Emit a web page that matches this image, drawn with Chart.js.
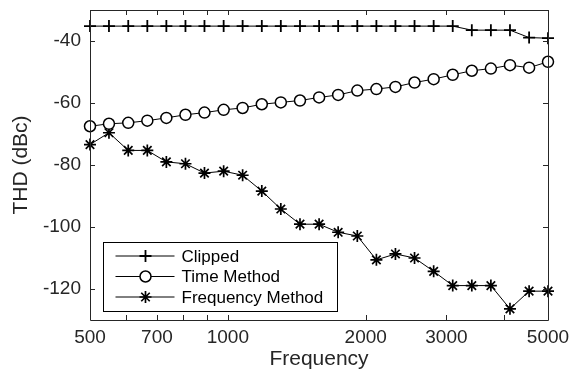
<!DOCTYPE html>
<html>
<head>
<meta charset="utf-8">
<script src="https://cdn.jsdelivr.net/npm/chart.js@4"></script>
<style>
    html, body { margin: 0; padding: 0; background: #fff; }
    #wrap { width: 570px; height: 372px; position: relative; }
</style>
</head>
<body>
<div id="wrap"><canvas id="thdChart"></canvas></div>
<script>
// Data
const frequencies = [500, 550, 606, 667, 734, 808, 889, 979, 1077, 1186, 1305, 1437, 1582,
    1741, 1917, 2110, 2322, 2556, 2814, 3097, 3409, 3752, 4130, 4547, 5000];

const clipped = [-35.2, -35.2, -35.2, -35.2, -35.2, -35.2, -35.2, -35.2, -35.2, -35.2,
    -35.2, -35.2, -35.2, -35.2, -35.2, -35.2, -35.2, -35.2, -35.2, -35.2,
    -36.5, -36.5, -36.5, -38.9, -39.1];

const timeMethod = [-67.5, -66.7, -66.4, -65.7, -64.8, -63.8, -63.1, -62.2, -61.6, -60.4,
    -59.8, -59.2, -58.2, -57.4, -56.0, -55.5, -54.8, -53.4, -52.3, -50.9,
    -49.6, -48.9, -47.8, -48.6, -46.7];

const freqMethod = [-73.4, -69.6, -75.3, -75.3, -79.0, -79.6, -82.6, -82.0, -83.3, -88.4,
    -94.2, -99.1, -99.1, -101.7, -102.9, -110.6, -108.7, -110.0, -114.3, -118.9,
    -118.9, -118.9, -126.4, -120.7, -120.7];

const seriesNames = ['Clipped', 'Time Method', 'Frequency Method'];
const xTicks = [500, 600, 700, 800, 900, 1000, 2000, 3000, 4000, 5000];
const xLabels = [500, 700, 1000, 2000, 3000, 5000];
const yTicks = [-120, -100, -80, -60, -40];

const AXIS_COLOR = '#262626';
const FONT = 'Liberation Sans, Arial, Helvetica, sans-serif';

function toPoints(values) {
    return values.map((v, i) => ({ x: frequencies[i], y: v }));
}

function makeDataset(label, values, style, radius, width, fill) {
    return {
        label: label,
        data: toPoints(values),
        borderColor: '#000',
        borderWidth: 1,
        pointStyle: style,
        pointRadius: radius,
        pointBorderWidth: width,
        pointBorderColor: '#000',
        pointBackgroundColor: fill,
        tension: 0,
        clip: false
    };
}

// Box, inward ticks and the in-plot legend
const matlabAxes = {
    id: 'matlabAxes',
    afterDatasetsDraw(chart) {
        const ctx = chart.ctx;
        const area = chart.chartArea;
        const xs = chart.scales.x;
        const ys = chart.scales.y;
        const len = 5;

        ctx.save();
        ctx.strokeStyle = AXIS_COLOR;
        ctx.lineWidth = 1;
        ctx.beginPath();
        ctx.rect(Math.round(area.left) + 0.5, Math.round(area.top) + 0.5,
            Math.round(area.right - area.left), Math.round(area.bottom - area.top));
        ctx.stroke();

        ctx.beginPath();
        xs.ticks.forEach(t => {
            const px = Math.round(xs.getPixelForValue(t.value)) + 0.5;
            ctx.moveTo(px, area.bottom); ctx.lineTo(px, area.bottom - len);
            ctx.moveTo(px, area.top); ctx.lineTo(px, area.top + len);
        });
        ys.ticks.forEach(t => {
            const py = Math.round(ys.getPixelForValue(t.value)) + 0.5;
            ctx.moveTo(area.left, py); ctx.lineTo(area.left + len, py);
            ctx.moveTo(area.right, py); ctx.lineTo(area.right - len, py);
        });
        ctx.stroke();

        // legend
        const boxLeft = area.left + 13.5;
        const boxTop = area.bottom - 77.5;
        const boxW = 234;
        const boxH = 69;
        ctx.fillStyle = '#fff';
        ctx.fillRect(boxLeft, boxTop, boxW, boxH);
        ctx.strokeStyle = '#000';
        ctx.strokeRect(boxLeft, boxTop, boxW, boxH);

        ctx.font = '17px ' + FONT;
        ctx.textBaseline = 'middle';
        ctx.textAlign = 'left';
        chart.data.datasets.forEach((ds, i) => {
            const y = boxTop + 13.5 + i * 20.5;
            ctx.strokeStyle = '#000';
            ctx.lineWidth = 1;
            ctx.beginPath();
            ctx.moveTo(boxLeft + 12, y);
            ctx.lineTo(boxLeft + 71, y);
            ctx.stroke();
            ctx.lineWidth = ds.pointBorderWidth;
            ctx.fillStyle = ds.pointBackgroundColor;
            Chart.helpers.drawPoint(ctx, {
                pointStyle: ds.pointStyle,
                radius: ds.pointRadius,
                rotation: 0,
                borderWidth: ds.pointBorderWidth
            }, boxLeft + 42, y);
            ctx.fillStyle = '#000';
            ctx.fillText(ds.label, boxLeft + 78, y + 1);
        });
        ctx.restore();
    }
};

function initializeChart() {
    const ctx = document.getElementById('thdChart').getContext('2d');
    new Chart(ctx, {
        type: 'line',
        data: {
            datasets: [
                makeDataset(seriesNames[0], clipped, 'cross', 6, 1.8, '#000'),
                makeDataset(seriesNames[1], timeMethod, 'circle', 5.5, 1.5, '#fff'),
                makeDataset(seriesNames[2], freqMethod, 'star', 6, 1.7, '#000')
            ]
        },
        options: {
            responsive: true,
            maintainAspectRatio: false,
            animation: false,
            devicePixelRatio: 1,
            layout: { padding: { top: 10, right: 22, left: 0, bottom: 0 } },
            plugins: {
                legend: { display: false },
                tooltip: { enabled: false }
            },
            scales: {
                x: {
                    type: 'logarithmic',
                    min: 500,
                    max: 5000,
                    grid: { display: false, drawTicks: false },
                    border: { display: false },
                    afterBuildTicks: scale => {
                        scale.ticks = xTicks.map(v => ({ value: v }));
                    },
                    afterFit: scale => {
                        scale.height = 52;
                        scale.paddingLeft = 0;
                        scale.paddingRight = 0;
                    },
                    ticks: {
                        autoSkip: false,
                        maxRotation: 0,
                        padding: 6,
                        color: AXIS_COLOR,
                        font: { family: FONT, size: 19 },
                        callback: value => xLabels.includes(value) ? String(value) : ''
                    },
                    title: {
                        display: true,
                        text: 'Frequency',
                        color: AXIS_COLOR,
                        padding: { top: 0, bottom: 0 },
                        font: { family: FONT, size: 21 }
                    }
                },
                y: {
                    type: 'linear',
                    min: -130,
                    max: -30,
                    grid: { display: false, drawTicks: false },
                    border: { display: false },
                    afterBuildTicks: scale => {
                        scale.ticks = yTicks.map(v => ({ value: v }));
                    },
                    afterFit: scale => {
                        scale.width = 90;
                        scale.paddingTop = 0;
                        scale.paddingBottom = 0;
                    },
                    ticks: {
                        padding: 9,
                        color: AXIS_COLOR,
                        font: { family: FONT, size: 19 },
                        callback: value => String(value)
                    },
                    title: {
                        display: true,
                        text: 'THD (dBc)',
                        color: AXIS_COLOR,
                        padding: { top: 9, bottom: 0 },
                        font: { family: FONT, size: 21 }
                    }
                }
            }
        },
        plugins: [matlabAxes]
    });
}

document.addEventListener('DOMContentLoaded', () => {
    initializeChart();
});
</script>
</body>
</html>
